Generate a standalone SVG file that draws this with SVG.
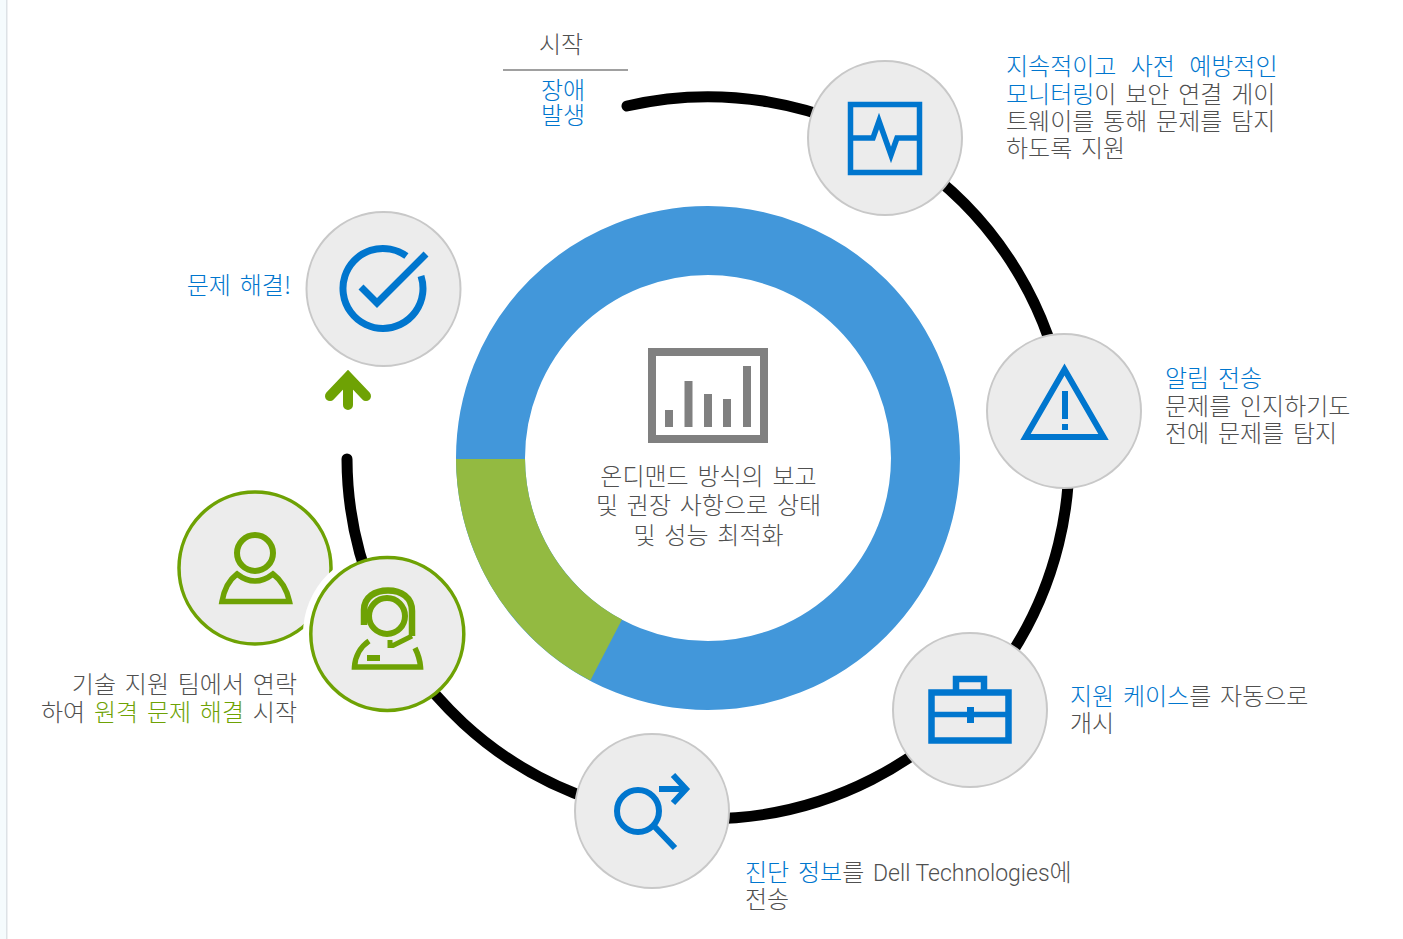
<svg xmlns="http://www.w3.org/2000/svg" width="1403" height="939" viewBox="0 0 1403 939">
<style>
text{font-family:"Noto Sans CJK KR","Noto Sans",sans-serif;font-weight:300;font-size:24px;fill:#505050;word-spacing:3.500px}
.b{fill:#0076ce}.g{fill:#6ea204}
.lat{font-family:Roboto,"Liberation Sans",sans-serif;font-size:23px;word-spacing:0}
.n{fill:#ececec;stroke:#c8c8c8;stroke-width:2}
.ng{fill:#ececec;stroke:#6ea204;stroke-width:3.500}
.ib{fill:none;stroke:#0076ce;stroke-width:5.500}
.ig{fill:none;stroke:#6ea204;stroke-width:5.500}
.fb{fill:#0076ce}.fg{fill:#6ea204}.fc{fill:#808080}
</style>
<rect width="1403" height="939" fill="#fff"/>
<rect x="0" y="0" width="6" height="939" fill="#f5fbfd"/>
<rect x="6" y="0" width="1.500" height="939" fill="#dde2e6"/>
<g id="node-user">
<circle class="ng" cx="255" cy="568" r="76"/>
<circle class="ig" style="stroke-width:6" cx="255" cy="553" r="18"/>
<path class="ig" d="M222,601.500 H289.500 C287,590 281,580 273,574 Q255,588 237,574 C229,580 224,590 222,601.500 Z"/>
<circle cx="387" cy="634" r="84" fill="#fff"/>
<text x="297" y="693" text-anchor="end">기술 지원 팀에서 연락</text>
<text x="297" y="721" text-anchor="end">하여 <tspan class="g">원격 문제 해결</tspan> 시작</text>
</g>
<g id="connectors">
<path d="M627,106 A361,361 0 1 1 347,459" fill="none" stroke="#000" stroke-width="11" stroke-linecap="round"/>
<path d="M330,396 L348,377 L366,396 M348,382 V405" fill="none" stroke="#6ea204" stroke-width="10" stroke-linecap="round" stroke-miterlimit="4"/>
</g>
<g id="ring">
<circle cx="708" cy="458" r="217.500" fill="none" stroke="#4297da" stroke-width="69"/>
<path d="M456,459 A252,252 0 0 0 590.300,680.600 L622,619.600 A183,183 0 0 1 525,459 Z" fill="#93ba41"/>
</g>
<g id="center">
<rect x="652" y="352" width="112" height="87" fill="none" stroke="#808080" stroke-width="8"/>
<rect class="fc" x="665" y="410" width="8" height="17"/>
<rect class="fc" x="684.500" y="381" width="8" height="46"/>
<rect class="fc" x="704" y="394" width="8" height="33"/>
<rect class="fc" x="723" y="399" width="8" height="28"/>
<rect class="fc" x="743" y="366" width="8" height="61"/>
<text x="708.500" y="485" text-anchor="middle">온디맨드 방식의 보고</text>
<text x="708.500" y="514" text-anchor="middle">및 권장 사항으로 상태</text>
<text x="708.500" y="544" text-anchor="middle">및 성능 최적화</text>
</g>
<g id="start">
<text x="561" y="53" text-anchor="middle">시작</text>
<line x1="503" y1="70" x2="628" y2="70" stroke="#808080" stroke-width="1.500"/>
<text class="b" x="563" y="99" text-anchor="middle">장애</text>
<text class="b" x="563" y="124" text-anchor="middle">발생</text>
</g>
<g id="node-monitor">
<circle class="n" cx="885" cy="138" r="77"/>
<rect class="ib" x="850.500" y="104.500" width="69" height="68"/>
<path class="ib" d="M852,138 H873 L879,121 L891,155 L897,138 H919"/>
<text x="1006" y="75" style="word-spacing:9px"><tspan class="b">지속적이고 사전 예방적인</tspan></text>
<text x="1006" y="103"><tspan class="b">모니터링</tspan>이 보안 연결 게이</text>
<text x="1006" y="130">트웨이를 통해 문제를 탐지</text>
<text x="1006" y="157">하도록 지원</text>
</g>
<g id="node-alert">
<circle class="n" cx="1064" cy="411" r="77"/>
<path class="ib" style="stroke-width:6" d="M1025.500,437 L1064.500,369.500 L1103.500,437 Z"/>
<rect class="fb" x="1062" y="391" width="6" height="28"/>
<rect class="fb" x="1062" y="424" width="6" height="6"/>
<text x="1165" y="387" class="b">알림 전송</text>
<text x="1165" y="415">문제를 인지하기도</text>
<text x="1165" y="442">전에 문제를 탐지</text>
</g>
<g id="node-case">
<circle class="n" cx="970" cy="710" r="77"/>
<rect class="ib" style="stroke-width:6.500" x="931.500" y="692.500" width="77" height="48"/>
<path class="ib" style="stroke-width:6.500" d="M956,690 V679 H984 V690"/>
<path class="ib" d="M931,714.500 H1009"/>
<rect class="fb" x="967" y="707" width="7" height="16"/>
<text x="1070" y="705"><tspan class="b">지원 케이스</tspan>를 자동으로</text>
<text x="1070" y="732">개시</text>
</g>
<g id="node-diagnostic">
<circle class="n" cx="652" cy="811" r="77"/>
<circle class="ib" style="stroke-width:6" cx="638" cy="811" r="21"/>
<path class="ib" style="stroke-width:6" d="M654,826 L675,848 M659,789 H684 M673,775 L686,789 L673,803"/>
<text x="745" y="881"><tspan class="b">진단 정보</tspan>를 <tspan class="lat">Dell Technologies</tspan>에</text>
<text x="745" y="908">전송</text>
</g>
<g id="node-agent">
<circle class="ng" cx="387.300" cy="634" r="76.500"/>
<circle class="ig" style="stroke-width:6" cx="387" cy="616" r="18"/>
<path class="ig" style="stroke-width:6.500" d="M364,625 V610 C364,597 375,590.500 388,590.500 C401,590.500 412,597 412,611 V636"/>
<path class="ig" style="stroke-width:5" d="M412,636 L393,645.500 H390 V640"/>
<path class="ig" d="M369,641 C360,647 355,657 354.500,667 H420.500 C420,660 418,654 415,648"/>
<rect class="fg" x="367" y="655" width="13" height="6"/>
</g>
<g id="node-resolved">
<circle class="n" cx="383.500" cy="289" r="77"/>
<path class="ib" style="stroke-width:7" d="M406.400,256 A40,40 0 1 0 421,276"/>
<path class="ib" style="stroke-width:7" d="M361,287 L377,303 L426,254"/>
<text x="291" y="294" text-anchor="end" class="b">문제 해결!</text>
</g>
</svg>
